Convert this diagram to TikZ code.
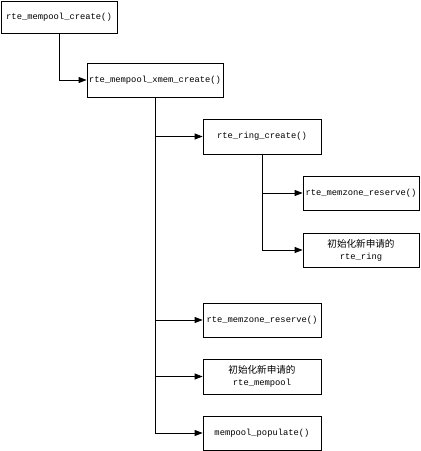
\documentclass[tikz,border=0pt]{standalone}
\usepackage{fontspec}
\setmainfont{Liberation Mono}
\newfontfamily\cjk{Noto Sans CJK SC}
\usetikzlibrary{arrows.meta}
\newcommand{\zh}[1]{{\cjk\fontsize{9.6}{11}\selectfont #1}}
\begin{document}
\begin{tikzpicture}[x=1pt,y=-1pt,
  box/.style={draw=black,line width=0.8pt,rectangle,inner sep=0pt,align=center,
    font=\fontsize{8.8}{12}\selectfont},
  conn/.style={line width=0.8pt,-{Triangle[length=8pt,width=6pt]}}]
\path[use as bounding box,fill=white] (0,0) rectangle (421,451);
\node[box,minimum width=116pt,minimum height=32pt] (b1) at (59,17) {rte\_mempool\_create()};
\node[box,minimum width=136pt,minimum height=34pt] (b2) at (155,80) {rte\_mempool\_xmem\_create()};
\node[box,minimum width=118pt,minimum height=35pt] (b3) at (262,136.5) {rte\_ring\_create()};
\node[box,minimum width=116pt,minimum height=34pt] (b4) at (361,193) {rte\_memzone\_reserve()};
\node[box,minimum width=116pt,minimum height=34pt] (b5) at (361,250) {\zh{初始化新申请的}\\rte\_ring};
\node[box,minimum width=118pt,minimum height=34pt] (b6) at (262,320) {rte\_memzone\_reserve()};
\node[box,minimum width=118pt,minimum height=35pt] (b7) at (262,376.5) {\zh{初始化新申请的}\\rte\_mempool};
\node[box,minimum width=118pt,minimum height=34pt] (b8) at (262,433) {mempool\_populate()};
\draw[conn] (b1.south) |- (b2.west);
\draw[conn] (b2.south) |- (b3.west);
\draw[conn] (b2.south) |- (b6.west);
\draw[conn] (b2.south) |- (b7.west);
\draw[conn] (b2.south) |- (b8.west);
\draw[conn] (b3.south) |- (b4.west);
\draw[conn] (b3.south) |- (b5.west);
\end{tikzpicture}
\end{document}
